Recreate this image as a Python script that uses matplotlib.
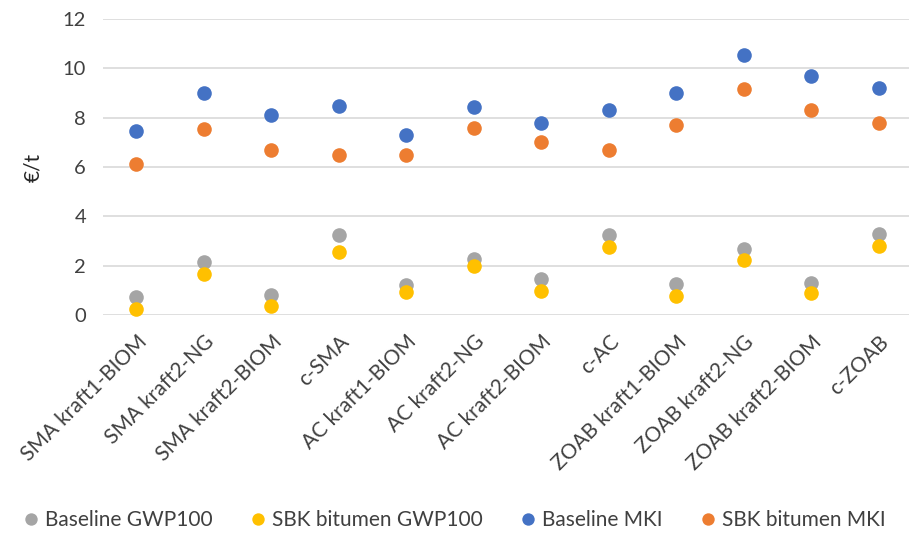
import numpy as np
import matplotlib.pyplot as plt

plt.rcParams['font.family'] = ['Lato', 'DejaVu Sans']

categories = ['SMA kraft1-BIOM', 'SMA kraft2-NG', 'SMA kraft2-BIOM', 'c-SMA',
              'AC kraft1-BIOM', 'AC kraft2-NG', 'AC kraft2-BIOM', 'c-AC',
              'ZOAB kraft1-BIOM', 'ZOAB kraft2-NG', 'ZOAB kraft2-BIOM', 'c-ZOAB']

baseline_gwp = [0.74, 2.14, 0.82, 3.24, 1.22, 2.27, 1.46, 3.23, 1.24, 2.66, 1.30, 3.30]
sbk_gwp = [0.26, 1.66, 0.35, 2.55, 0.92, 1.99, 0.97, 2.76, 0.77, 2.24, 0.88, 2.81]
baseline_mki = [7.47, 9.01, 8.11, 8.47, 7.28, 8.43, 7.80, 8.32, 9.01, 10.53, 9.68, 9.20]
sbk_mki = [6.12, 7.53, 6.69, 6.49, 6.49, 7.59, 7.00, 6.69, 7.69, 9.15, 8.31, 7.80]

series = [
    ('Baseline GWP100', baseline_gwp, '#A5A5A5'),
    ('SBK bitumen GWP100', sbk_gwp, '#FFC000'),
    ('Baseline MKI', baseline_mki, '#4472C4'),
    ('SBK bitumen MKI', sbk_mki, '#ED7D31'),
]

fig = plt.figure(figsize=(9.09, 5.36), dpi=100)
ax = fig.add_axes([0.113, 0.4123, 0.887, 0.5523])

x = np.arange(len(categories))
for name, vals, col in series:
    ax.plot(x, vals, 'o', color=col, markersize=10.5, label=name,
            markeredgewidth=0, clip_on=False, zorder=3)

ax.set_xlim(-0.5, 11.45)
ax.set_ylim(0, 12)
ax.set_yticks([0, 2, 4, 6, 8, 10, 12])
ax.yaxis.grid(True, color='#D9D9D9', linewidth=1.2)
ax.set_axisbelow(True)
for s in ax.spines.values():
    s.set_visible(False)
ax.tick_params(axis='both', length=0, labelsize=14.5, colors='#404040')
ax.tick_params(axis='y', pad=12)
ax.set_xticks(x)
ax.set_xticklabels(categories, rotation=45, ha='right', rotation_mode='anchor', fontsize=15)
ax.tick_params(axis='x', pad=12)

ax.set_ylabel('€/t', fontsize=15, color='#262626', labelpad=14)

fig.legend(loc='center', bbox_to_anchor=(0.5, 0.03), ncol=4, frameon=False,
           fontsize=15, handlelength=0.7, handletextpad=0.35, columnspacing=1.8,
           markerscale=0.85, labelcolor='#404040')

fig.savefig('out.png', dpi=100)
